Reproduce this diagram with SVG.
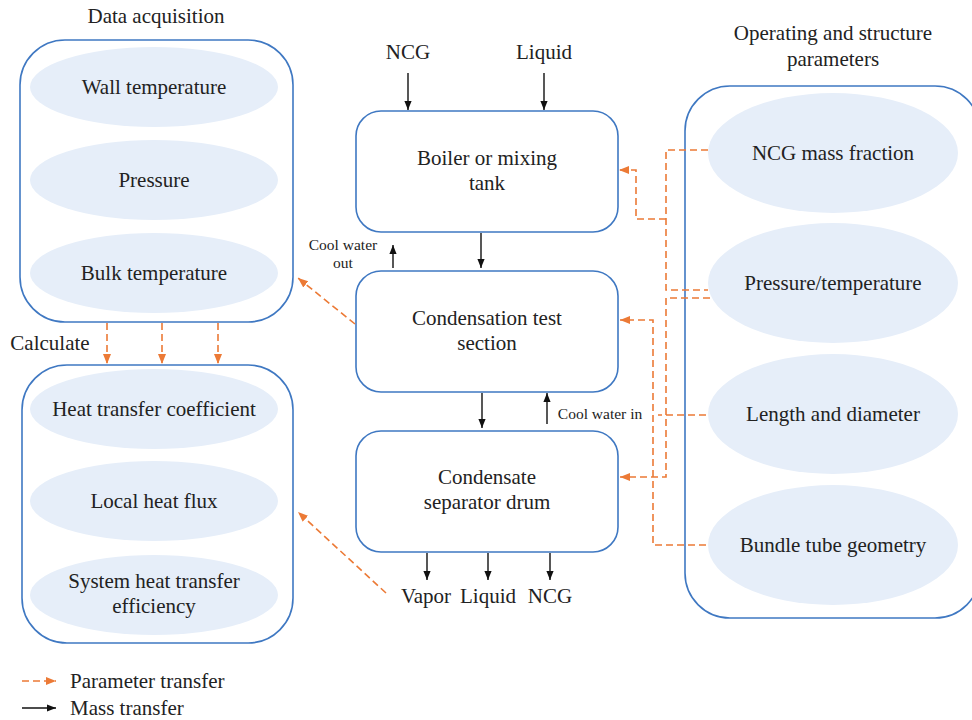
<svg xmlns="http://www.w3.org/2000/svg" width="972" height="720" viewBox="0 0 972 720">
<style>
text{fill:#222;text-anchor:middle}
.t{font-size:21px}
.s{font-size:15.5px}
.grp{fill:#fff;stroke:#3f78c2;stroke-width:1.6}
.box{fill:#fff;stroke:#3f78c2;stroke-width:1.6}
.ell{fill:#e6eef9;stroke:none}
.m{fill:none;stroke:#111;stroke-width:1.4}
.p{fill:none;stroke:#ec7a36;stroke-width:1.6;stroke-dasharray:7 4}
</style>
<defs>
<marker id="ab" viewBox="0 0 10 10" refX="10" refY="5" markerWidth="9" markerHeight="9" markerUnits="userSpaceOnUse" orient="auto"><path d="M0,1 L10,5 L0,9 z" fill="#111"/></marker>
<marker id="ao" viewBox="0 0 10 10" refX="10" refY="5" markerWidth="10" markerHeight="10" markerUnits="userSpaceOnUse" orient="auto"><path d="M0,1 L10,5 L0,9 z" fill="#ec7a36"/></marker>
</defs>
<rect width="972" height="720" fill="#fff"/>
<g font-family="Liberation Serif, DejaVu Serif, serif">
<g id="data-acquisition">
<text class="t" x="156" y="23">Data acquisition</text>
<rect class="grp" x="20" y="40" width="273" height="282" rx="45"/>
<ellipse class="ell" cx="154" cy="87" rx="124" ry="40"/>
<text class="t" x="154" y="94">Wall temperature</text>
<ellipse class="ell" cx="154" cy="180" rx="124" ry="40"/>
<text class="t" x="154" y="187">Pressure</text>
<ellipse class="ell" cx="154" cy="273" rx="124" ry="40"/>
<text class="t" x="154" y="280">Bulk temperature</text>
</g>

<g id="calculate-label"><text class="t" x="50" y="350">Calculate</text></g>

<g id="results">
<rect class="grp" x="22" y="365" width="271" height="278" rx="45"/>
<ellipse class="ell" cx="154" cy="409" rx="124" ry="40"/>
<text class="t" x="154" y="416">Heat transfer coefficient</text>
<ellipse class="ell" cx="154" cy="501" rx="124" ry="40"/>
<text class="t" x="154" y="508">Local heat flux</text>
<ellipse class="ell" cx="154" cy="595" rx="124" ry="40"/>
<text class="t" x="154" y="588">System heat transfer</text>
<text class="t" x="154" y="613">efficiency</text>
</g>

<g id="boiler">
<rect class="box" x="356" y="111" width="262" height="121" rx="25"/>
<text class="t" x="487" y="165">Boiler or mixing</text>
<text class="t" x="487" y="190">tank</text>
</g>
<g id="test-section">
<rect class="box" x="356" y="271" width="262" height="121" rx="25"/>
<text class="t" x="487" y="325">Condensation test</text>
<text class="t" x="487" y="350">section</text>
</g>
<g id="separator">
<rect class="box" x="356" y="431" width="262" height="121" rx="25"/>
<text class="t" x="487" y="484">Condensate</text>
<text class="t" x="487" y="509">separator drum</text>
</g>

<g id="operating-parameters">
<text class="t" x="833" y="40">Operating and structure</text>
<text class="t" x="833" y="66">parameters</text>
<rect class="grp" x="685" y="86" width="295" height="532" rx="45"/>
<ellipse class="ell" cx="833" cy="153" rx="125" ry="60"/>
<text class="t" x="833" y="160">NCG mass fraction</text>
<ellipse class="ell" cx="833" cy="283" rx="125" ry="60"/>
<text class="t" x="833" y="290">Pressure/temperature</text>
<ellipse class="ell" cx="833" cy="414" rx="125" ry="60"/>
<text class="t" x="833" y="421">Length and diameter</text>
<ellipse class="ell" cx="833" cy="545" rx="125" ry="60"/>
<text class="t" x="833" y="552">Bundle tube geometry</text>
</g>

<g id="labels">
<text class="t" x="408" y="59">NCG</text>
<text class="t" x="544" y="59">Liquid</text>
<text class="s" x="343" y="250">Cool water</text>
<text class="s" x="343" y="268">out</text>
<text class="s" x="600" y="419">Cool water in</text>
<text class="t" x="426" y="603">Vapor</text>
<text class="t" x="488" y="603">Liquid</text>
<text class="t" x="550" y="603">NCG</text>
</g>

<g id="legend">
<text class="t" x="70" y="688" style="text-anchor:start">Parameter transfer</text>
<text class="t" x="70" y="715" style="text-anchor:start">Mass transfer</text>
</g>
</g>

<g id="connectors">
<path class="m" d="M408,73 V110" marker-end="url(#ab)"/>
<path class="m" d="M544,73 V110" marker-end="url(#ab)"/>
<path class="m" d="M481,233 V268" marker-end="url(#ab)"/>
<path class="m" d="M393,268 V245" marker-end="url(#ab)"/>
<path class="m" d="M482,393 V428" marker-end="url(#ab)"/>
<path class="m" d="M547,424 V393" marker-end="url(#ab)"/>
<path class="m" d="M427,553 V580" marker-end="url(#ab)"/>
<path class="m" d="M488,553 V580" marker-end="url(#ab)"/>
<path class="m" d="M550,553 V580" marker-end="url(#ab)"/>

<path class="p" d="M107,323 V364" marker-end="url(#ao)"/>
<path class="p" d="M162,323 V364" marker-end="url(#ao)"/>
<path class="p" d="M218,323 V364" marker-end="url(#ao)"/>
<path class="p" d="M355,324 L298,278" marker-end="url(#ao)"/>
<path class="p" d="M386,593 L298,512" marker-end="url(#ao)"/>

<path class="p" d="M708,150 H666 V290 H708"/>
<path class="p" d="M666,219 H636 V170 H619" marker-end="url(#ao)"/>
<path class="p" d="M710,298 H666 V477 H620" marker-end="url(#ao)"/>
<path class="p" d="M706,545 H653 V320 H620" marker-end="url(#ao)"/>
<path class="p" d="M706,415 H658"/>
<path class="p" d="M22,681 H56" marker-end="url(#ao)"/>
<path class="m" d="M22,708 H56" marker-end="url(#ab)"/>
</g>
</svg>
